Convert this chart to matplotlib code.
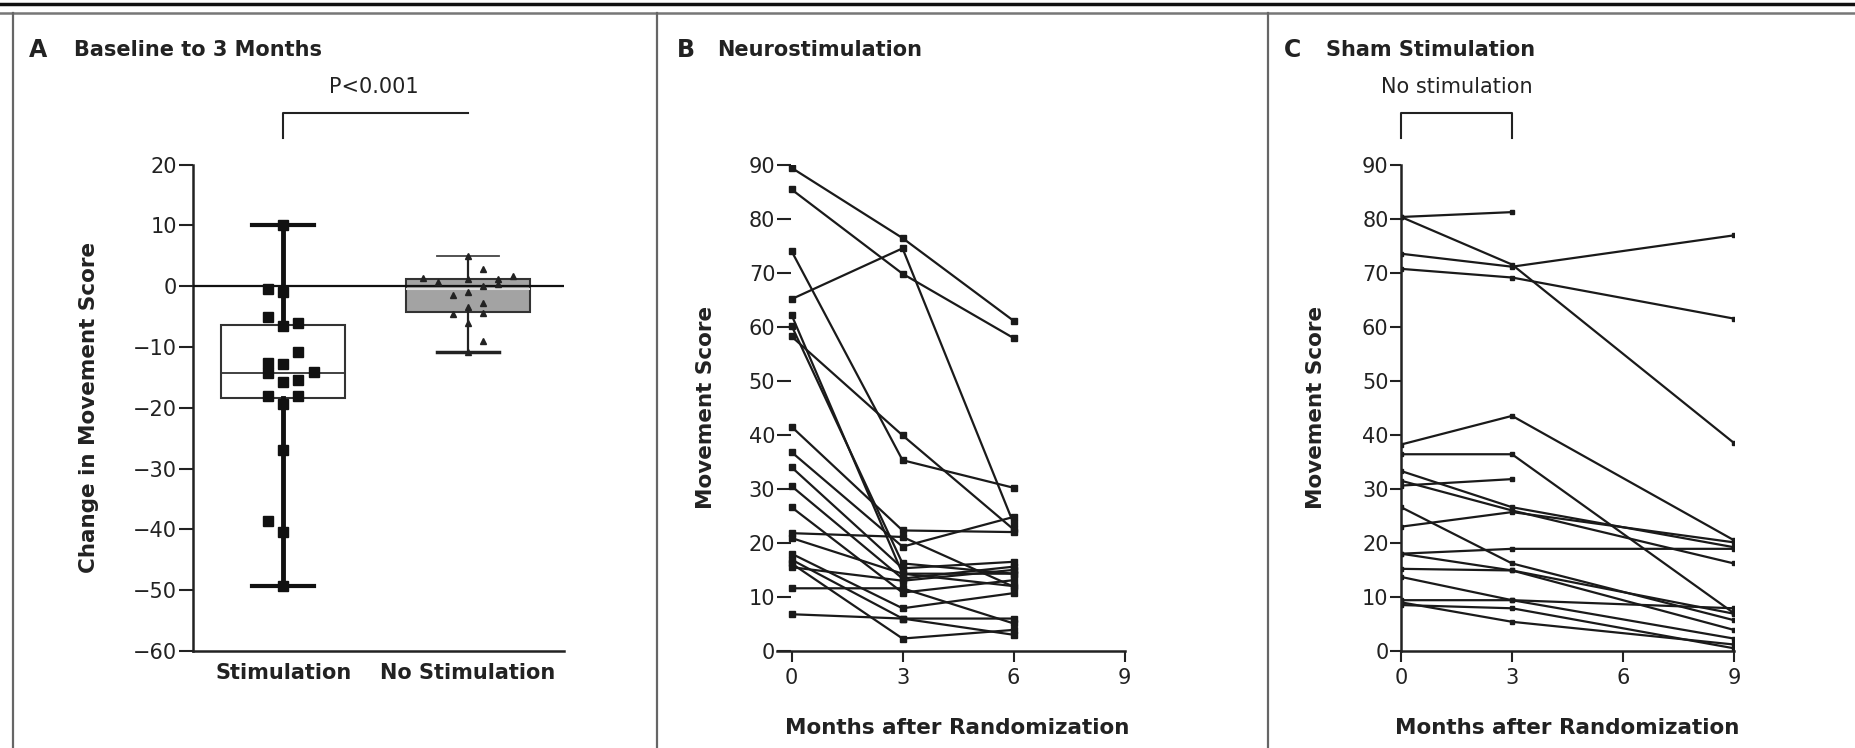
import numpy as np
import matplotlib.pyplot as plt
from matplotlib.lines import Line2D
from matplotlib.ticker import MultipleLocator

plt.rcParams['font.family'] = ['DejaVu Sans']

# Panel A: change in movement score, baseline to 3 months
groups = ['Stimulation', 'No Stimulation']
stim_change = [10, -0.5, -1, -5.1, -6.5, -6.1, -10.8, -12.7, -12.8, -14.1,
               -14.3, -15.8, -15.5, -18.1, -18.1, -19.3, -27, -38.7, -40.4, -49.3]
stim_lane = [0, -1, 0, -1, 0, 1, 1, -1, 0, 2, -1, 0, 1, -1, 1, 0, 0, -1, 0, 0]
nostim_change = [5.0, 2.8, 1.7, 1.4, 1.2, 1.2, 0.7, 0.4, 0, -1.0, -1.4, -2.7,
                 -3.5, -4.4, -4.6, -6.1, -9.0, -10.8]
nostim_lane = [0, 1, 3, -3, 0, 2, -2, 2, 1, 0, -1, 1, 0, 1, -1, 0, 1, 0]

# Panel B: neurostimulation group, months 0/3/6
b_months = [0, 3, 6]
b_scores = [
    [89.4, 76.4, 61.1],
    [85.4, 69.8, 57.9],
    [74.0, 35.3, 30.2],
    [65.1, 74.5, 23.6],
    [62.2, 14.3, 12.0],
    [60.2, 16.2, 14.3],
    [58.2, 39.9, 22.5],
    [41.5, 22.3, 22.0],
    [36.8, 19.3, 24.8],
    [34.0, 15.3, 16.5],
    [30.5, 13.4, 15.6],
    [26.6, 10.8, 13.1],
    [21.8, 21.1, 11.9],
    [20.9, 14.3, 14.3],
    [18.0, 7.9, 10.7],
    [16.9, 6.0, 6.0],
    [16.2, 2.3, 3.9],
    [11.6, 11.6, 5.1],
    [6.8, 6.0, 3.0],
    [15.5, 13.0, 15.0],
]

# Panel C: sham stimulation group, months 0/3/9 (nan = no 9-month value)
c_months = [0, 3, 9]
c_scores = [
    [80.3, 81.2, np.nan],
    [80.3, 71.5, 38.5],
    [73.5, 71.1, 76.9],
    [70.7, 69.1, 61.5],
    [38.2, 43.5, 20.5],
    [36.4, 36.4, 7.0],
    [33.3, 26.6, 19.2],
    [31.5, 26.0, 16.2],
    [30.6, 31.8, np.nan],
    [26.6, 16.2, 5.7],
    [23.0, 25.7, 20.1],
    [18.0, 18.9, 18.9],
    [18.0, 14.9, 3.9],
    [15.2, 14.9, 6.9],
    [13.7, 9.4, 2.3],
    [9.4, 9.4, 7.9],
    [8.5, 7.9, 0.5],
    [9.0, 5.4, 1.2],
]

ink = '#222222'
fig = plt.figure(figsize=(18.56, 7.48), dpi=100)

# frame: double rule on top and panel dividers
fig.add_artist(Line2D([0, 1], [1 - 4 / 748] * 2, color='#111111', lw=2.5))
fig.add_artist(Line2D([0, 1], [1 - 13 / 748] * 2, color='#777777', lw=1.8))
for xd in [13.4, 657, 1268]:
    fig.add_artist(Line2D([xd / 1856] * 2, [0, 1 - 13 / 748], color='#666666', lw=1.6))

# panel titles
for xl, xt, letter, title in [(29, 74, 'A', 'Baseline to 3 Months'),
                              (677, 717, 'B', 'Neurostimulation'),
                              (1284, 1326, 'C', 'Sham Stimulation')]:
    fig.text(xl / 1856, 1 - 50 / 748, letter, fontsize=17, fontweight='bold',
             color=ink, va='center')
    fig.text(xt / 1856, 1 - 50 / 748, title, fontsize=15, fontweight='bold',
             color=ink, va='center')

# ---------------- Panel A ----------------
axA = fig.add_axes([0.1039, 0.1297, 0.2, 0.6503])
lane = 0.082
bp = axA.boxplot([stim_change, nostim_change], positions=[0, 1], widths=0.67,
                 whis=(0, 100), showfliers=False, patch_artist=True,
                 capwidths=0.335)
bp['boxes'][0].set(facecolor='white', edgecolor='#333333', lw=1.5)
bp['boxes'][1].set(facecolor='#a3a3a3', edgecolor='#333333', lw=1.5)
bp['medians'][0].set(color='#333333', lw=1.3)
bp['medians'][1].set(color='#dddddd', lw=1.5)
for w in bp['whiskers'][:2]:
    w.set(color='#111111', lw=3.5)
for c in bp['caps'][:2]:
    c.set(color='#111111', lw=3)
for w in bp['whiskers'][2:]:
    w.set(color='#222222', lw=1.6)
bp['caps'][2].set(color='#222222', lw=2.5)
bp['caps'][3].set(color='#444444', lw=1.3)

axA.axhline(0, color='#111111', lw=1.6, zorder=4)
axA.plot(0 + np.array(stim_lane) * lane, stim_change, 's', color='#111111',
         ms=7, zorder=5)
axA.plot(1 + np.array(nostim_lane) * lane, nostim_change, '^', color='#222222',
         ms=4.5, zorder=5)

axA.set_xlim(-0.49, 1.52)
axA.set_ylim(-60, 20)
axA.yaxis.set_major_locator(MultipleLocator(10))
axA.set_xticks([0, 1])
axA.set_xticklabels(groups, fontsize=15, fontweight='bold', color=ink)
axA.tick_params(axis='x', length=0, pad=9)
axA.tick_params(axis='y', length=10, width=1.5, pad=1.5, labelsize=15,
                labelcolor=ink, color='#222222')
for s in ['top', 'right']:
    axA.spines[s].set_visible(False)
for s in ['left', 'bottom']:
    axA.spines[s].set(lw=1.8, color='#222222')
axA.set_ylabel('Change in Movement Score', fontsize=15.5, fontweight='bold', color=ink)
axA.yaxis.set_label_coords(-0.252, 0.5)

# significance bracket
trA = axA.get_xaxis_transform()
axA.plot([0, 0, 1], [1.055, 1.105, 1.105], color='#222222', lw=1.5,
         transform=trA, clip_on=False)
axA.text(0.49, 1.16, 'P<0.001', transform=trA, ha='center', va='center',
         fontsize=15, color=ink)

# ---------------- Panel B ----------------
axB = fig.add_axes([0.4185, 0.1297, 0.1874, 0.6503])
for row in b_scores:
    axB.plot(b_months, row, '-s', color='#1a1a1a', lw=1.6, ms=4)
axB.set_xlim(-0.4, 9)
axB.set_ylim(0, 90)
axB.set_xticks([0, 3, 6, 9])
axB.yaxis.set_major_locator(MultipleLocator(10))
axB.spines['left'].set_visible(False)
for s in ['top', 'right']:
    axB.spines[s].set_visible(False)
axB.spines['bottom'].set(lw=1.8, color='#222222')
axB.tick_params(axis='y', direction='in', length=10, width=1.5, pad=1,
                labelsize=15, labelcolor=ink, color='#222222')
axB.tick_params(axis='x', length=8, width=1.5, pad=4, labelsize=15,
                labelcolor=ink, color='#222222')
axB.set_ylabel('Movement Score', fontsize=15.5, fontweight='bold', color=ink)
axB.yaxis.set_label_coords(-0.175, 0.5)
axB.set_xlabel('Months after Randomization', fontsize=15.5, fontweight='bold', color=ink)
axB.xaxis.set_label_coords(0.52, -0.138)

# ---------------- Panel C ----------------
axC = fig.add_axes([0.7549, 0.1297, 0.1793, 0.6503])
for row in c_scores:
    axC.plot(c_months, row, '-s', color='#1a1a1a', lw=1.6, ms=3)
axC.set_xlim(0, 9)
axC.set_ylim(0, 90)
axC.set_xticks([0, 3, 6, 9])
axC.yaxis.set_major_locator(MultipleLocator(10))
for s in ['top', 'right']:
    axC.spines[s].set_visible(False)
for s in ['left', 'bottom']:
    axC.spines[s].set(lw=1.8, color='#222222')
axC.tick_params(axis='y', length=8, width=1.5, pad=1, labelsize=15,
                labelcolor=ink, color='#222222')
axC.tick_params(axis='x', length=8, width=1.5, pad=4, labelsize=15,
                labelcolor=ink, color='#222222')
axC.set_ylabel('Movement Score', fontsize=15.5, fontweight='bold', color=ink)
axC.yaxis.set_label_coords(-0.225, 0.5)
axC.set_xlabel('Months after Randomization', fontsize=15.5, fontweight='bold', color=ink)
axC.xaxis.set_label_coords(0.5, -0.138)

trC = axC.get_xaxis_transform()
axC.plot([0, 0, 3, 3], [1.055, 1.105, 1.105, 1.055], color='#222222', lw=1.5,
         transform=trC, clip_on=False)
axC.text(1.5, 1.16, 'No stimulation', transform=trC, ha='center', va='center',
         fontsize=15, color=ink)

fig.savefig('out.png', dpi=100)
